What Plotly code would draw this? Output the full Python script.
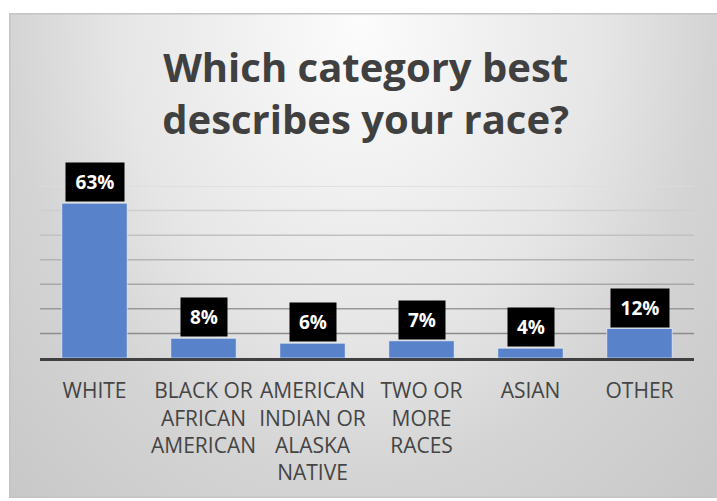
import base64
import plotly.graph_objects as go

# Survey results: share of respondents by race (percent)
categories = [
    "WHITE",
    "BLACK OR<br>AFRICAN<br>AMERICAN",
    "AMERICAN<br>INDIAN OR<br>ALASKA<br>NATIVE",
    "TWO OR<br>MORE<br>RACES",
    "ASIAN",
    "OTHER",
]
percentages = [63, 8, 6, 7, 4, 12]
grid_values = [10, 20, 30, 40, 50, 60, 70]

W, H = 717, 501
M_L, M_R, M_T, M_B = 40, 23, 186, 143
PLOT_W = W - M_L - M_R
PLOT_H = H - M_T - M_B

# Soft radial gradient panel behind the whole chart
BOX_X0, BOX_Y0, BOX_W, BOX_H = 9, 13, 712, 485
svg = f"""<svg xmlns='http://www.w3.org/2000/svg' width='{BOX_W}' height='{BOX_H}' viewBox='0 0 {BOX_W} {BOX_H}' preserveAspectRatio='none'>
<defs>
<radialGradient id='g' gradientUnits='userSpaceOnUse' cx='351' cy='8' r='532'
 gradientTransform='translate(351 8) scale(1 1.3) translate(-351 -8)'>
<stop offset='0' stop-color='#fcfcfc'/>
<stop offset='0.45' stop-color='#e6e6e6'/>
<stop offset='0.66' stop-color='#d4d4d4'/>
<stop offset='1' stop-color='#c6c6c6'/>
</radialGradient>
</defs>
<rect x='0' y='0' width='{BOX_W}' height='{BOX_H}' fill='url(#g)'/>
<rect x='0.75' y='0.75' width='{BOX_W}' height='{BOX_H - 1.5}' fill='none' stroke='#c4c4c4' stroke-width='1.5'/>
</svg>"""
svg_uri = "data:image/svg+xml;base64," + base64.b64encode(svg.encode()).decode()

fig = go.Figure()

fig.add_trace(go.Bar(
    x=categories,
    y=percentages,
    marker=dict(color="#5882c9", line=dict(color="rgba(255,255,255,0.55)", width=1)),
    hoverinfo="skip",
))

# Gridlines: lighter toward the top, darker near the baseline
def _mix(c1, c2, t):
    return "#" + "".join(f"{round(a + (b - a) * t):02x}" for a, b in zip(c1, c2))

light, dark = (0xdc, 0xdc, 0xdc), (0x8c, 0x8c, 0x8c)
for i, gv in enumerate(grid_values):
    t = 1 - i / (len(grid_values) - 1)
    fig.add_shape(type="line", xref="paper", yref="y", x0=0, x1=1, y0=gv, y1=gv,
                  line=dict(color=_mix(light, dark, t), width=1.5), layer="below")

# Value labels in black boxes above each bar
for cat, val in zip(categories, percentages):
    label = f"{val}%"
    fig.add_annotation(
        x=cat, y=val, xref="x", yref="y",
        text=f"<b>{label}</b>", showarrow=False,
        yanchor="bottom", yshift=1,
        font=dict(family="Open Sans", size=19, color="white"),
        bgcolor="black", borderpad=7,
        width=44 if len(label) > 2 else 32, height=24,
    )

fig.add_layout_image(
    source=svg_uri, xref="paper", yref="paper",
    x=(BOX_X0 - M_L) / PLOT_W, y=(H - M_B - BOX_Y0) / PLOT_H,
    sizex=BOX_W / PLOT_W, sizey=BOX_H / PLOT_H,
    xanchor="left", yanchor="top", sizing="stretch", layer="below",
)

fig.update_layout(
    width=W, height=H,
    margin=dict(l=M_L, r=M_R, t=M_T, b=M_B, pad=0),
    paper_bgcolor="white",
    plot_bgcolor="rgba(0,0,0,0)",
    showlegend=False,
    bargap=0.4,
    title=dict(
        text="<b>Which category best<br>describes your race?</b>",
        font=dict(family="Open Sans", size=40, color="#404040"),
        x=0.51, xanchor="center", xref="container",
        y=1 - 82 / H, yanchor="top", yref="container",
    ),
    xaxis=dict(
        showgrid=False, zeroline=False,
        showline=True, linecolor="#404040", linewidth=3,
        ticks="", ticklabelstandoff=12,
        tickfont=dict(family="Open Sans", size=21, color="#454545"),
    ),
    yaxis=dict(range=[0, 70], showgrid=False, zeroline=False,
               showticklabels=False, showline=False, ticks=""),
)

fig.write_html("out.html")
